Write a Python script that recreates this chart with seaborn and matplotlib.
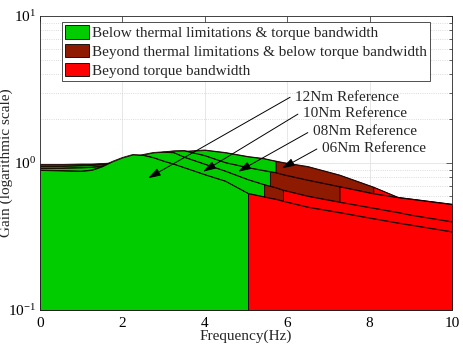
import numpy as np
import pandas as pd
import matplotlib
matplotlib.use("Agg")
import matplotlib.pyplot as plt
import seaborn as sns
from matplotlib.patches import Patch
from matplotlib.ticker import LogLocator, NullFormatter

# ---------------- data ----------------
freq_hz = [0, 0.5, 1.0, 1.25, 1.5, 1.75, 2.0, 2.25, 2.5, 2.75, 3.0, 3.25, 3.5,
           4.0, 4.5, 5.05, 5.44, 5.58, 5.72, 5.9, 6.5, 7.27, 8.09, 8.7, 9.0, 10.0]

gain_06nm = [0.977, 0.977, 0.984, 0.984, 0.992, 1.000, 1.016, 1.040, 1.073, 1.107,
             1.142, 1.179, 1.201, 1.226, 1.179, 1.107, 1.073, 1.051, 1.032, 1.008,
             0.947, 0.829, 0.687, 0.583, 0.569, 0.524]
gain_08nm = [0.954, 0.954, 0.962, 0.969, 0.977, 0.992, 1.024, 1.065, 1.107, 1.151,
             1.188, 1.211, 1.216, 1.125, 1.008, 0.932, 0.889, 0.875, 0.862, 0.835,
             0.766, 0.692, 0.620, 0.583, 0.569, 0.524]
gain_10nm = [0.925, 0.925, 0.932, 0.939, 0.954, 0.984, 1.032, 1.090, 1.142, 1.179,
             1.192, 1.179, 1.098, 0.984, 0.882, 0.772, 0.714, 0.697, 0.681, 0.655,
             0.596, 0.543, 0.494, 0.461, 0.443, 0.399]
gain_12nm = [0.896, 0.889, 0.882, 0.896, 0.947, 1.024, 1.090, 1.142, 1.133, 1.090,
             1.032, 0.984, 0.932, 0.835, 0.754, 0.622, 0.590, 0.578, 0.569, 0.551,
             0.502, 0.461, 0.419, 0.391, 0.379, 0.341]

curve_names = ["06Nm", "08Nm", "10Nm", "12Nm"]
curve_gains = [gain_06nm, gain_08nm, gain_10nm, gain_12nm]
thermal_limit_hz = [5.72, 5.58, 5.44, 5.05]
bandwidth_hz = [8.09, 7.27, 5.90, 5.05]

legend_labels = ["Below thermal limitations & torque bandwidth",
                 "Beyond thermal limitations & below torque bandwidth",
                 "Beyond torque bandwidth"]
annot_labels = ["12Nm Reference", "10Nm Reference", "08Nm Reference", "06Nm Reference"]

# ---------------- style ----------------
sns.set_theme(style="white")
plt.rcParams["font.family"] = ["Liberation Serif", "DejaVu Serif"]
plt.rcParams["mathtext.fontset"] = "stix"
FS = 11
plt.rcParams["font.size"] = FS

GREEN = "#00CC00"
DARKRED = "#8E1A02"
RED = "#FF0000"
EDGE = "#1a0000"

fig = plt.figure(figsize=(4.63, 3.48), dpi=100)
ax = fig.add_axes([40 / 463, 1 - 310 / 348, 412 / 463, 294 / 348])

df = pd.DataFrame({
    "freq": np.tile(freq_hz, len(curve_names)),
    "gain": np.concatenate(curve_gains),
    "curve": np.repeat(curve_names, len(freq_hz)),
})

f = np.array(freq_hz)
for i, name in enumerate(curve_names):
    g = df[df["curve"] == name]["gain"].to_numpy()
    th, bw = thermal_limit_hz[i], bandwidth_hz[i]
    z = 2 + i
    segs = [(f <= th, GREEN)]
    if bw > th:
        segs.append(((f >= th) & (f <= bw), DARKRED))
    segs.append((f >= bw, RED))
    for mask, col in segs:
        ax.fill_between(f[mask], 0.1, g[mask], facecolor=col, edgecolor=EDGE,
                        linewidth=0.6, zorder=z)
    sns.lineplot(data=df[df["curve"] == name], x="freq", y="gain", ax=ax,
                 color=EDGE, linewidth=0.6, zorder=z + 0.1, legend=False)

ax.set_yscale("log")
ax.set_xlim(0, 10)
ax.set_ylim(0.1, 10)
ax.set_xticks([0, 2, 4, 6, 8, 10])
ax.yaxis.set_major_locator(LogLocator(base=10, numticks=5))
ax.yaxis.set_minor_locator(LogLocator(base=10, subs=np.arange(2, 10), numticks=20))
ax.yaxis.set_minor_formatter(NullFormatter())

ax.set_axisbelow(True)
ax.grid(which="major", color="#e3e3e3", linewidth=0.6, linestyle="-")
ax.grid(which="minor", axis="y", color="#cfcfcf", linewidth=0.6, linestyle=":")

ax.tick_params(which="both", direction="in", top=True, right=True,
               colors="#262626", labelcolor="black", labelsize=FS)
ax.tick_params(which="major", length=4, width=0.5)
ax.tick_params(which="minor", length=2, width=0.5)
ax.tick_params(axis="x", pad=5)
ax.tick_params(axis="y", pad=3)
for s in ax.spines.values():
    s.set_color("#262626")
    s.set_linewidth(0.6)
    s.set_zorder(10)

ax.set_xlabel("Frequency(Hz)", fontsize=FS, labelpad=0)
ax.set_ylabel("Gain (logarithmic scale)", fontsize=FS)
ax.yaxis.set_label_coords(-0.066, 0.5)

# annotations
text_pos = [(6.19, 2.78), (6.38, 2.18), (6.62, 1.63), (6.84, 1.26)]
tail_pos = [(6.07, 2.80), (6.26, 2.15), (6.50, 1.61), (6.72, 1.245)]
head_pos = [(2.62, 0.787), (3.96, 0.873), (4.81, 0.873), (5.87, 0.920)]
for lab, tp, tl, hd in zip(annot_labels, text_pos, tail_pos, head_pos):
    ax.annotate("", xy=hd, xytext=tl,
                arrowprops=dict(arrowstyle="-|>,head_length=0.7,head_width=0.22",
                                color="black", lw=0.7, shrinkA=0, shrinkB=0),
                zorder=12)
    ax.text(tp[0], tp[1], lab, ha="left", va="center", fontsize=FS, zorder=12)

handles = [Patch(facecolor=c, edgecolor="black", linewidth=0.6)
           for c in (GREEN, DARKRED, RED)]
leg = ax.legend(handles, legend_labels, loc="upper left",
                bbox_to_anchor=(0.053, 0.98), fontsize=FS, frameon=True,
                fancybox=False, framealpha=1, edgecolor="#333333",
                handlelength=1.55, handleheight=1.0, handletextpad=0.2,
                labelspacing=0.25, borderpad=0.2, borderaxespad=0)
leg.get_frame().set_linewidth(0.6)
leg.set_zorder(13)

fig.savefig("out.png", dpi=100)
